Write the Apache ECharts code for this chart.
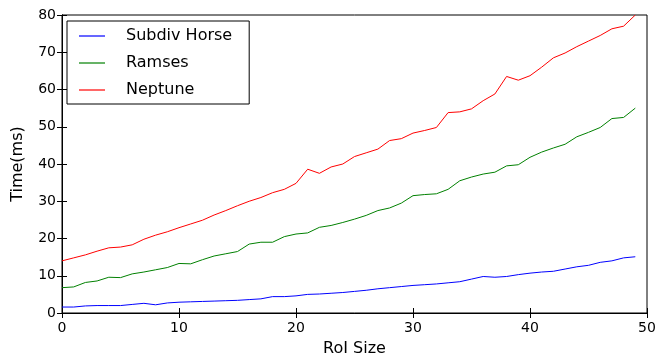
<!DOCTYPE html>
<html><head><meta charset="utf-8">
<script src="https://cdn.jsdelivr.net/npm/echarts@6/dist/echarts.min.js"></script>
<style>html,body{margin:0;padding:0;background:#fff}#c{width:657px;height:359px}</style>
</head><body><div id="c"></div>
<script>
const roiSize = Array.from({length:50},(_,i)=>i);
const subdivHorse = [1.6,1.6,1.9,2,2,2,2.3,2.6,2.2,2.7,2.9,3,3.1,3.2,3.3,3.4,3.6,3.8,4.4,4.4,4.6,5,5.1,5.3,5.5,5.8,6.1,6.5,6.8,7.1,7.4,7.6,7.8,8.1,8.4,9.1,9.8,9.6,9.8,10.3,10.7,11,11.2,11.8,12.4,12.8,13.6,14,14.8,15.1];
const ramses = [6.8,7,8.2,8.6,9.6,9.5,10.5,11,11.6,12.2,13.3,13.2,14.3,15.3,15.9,16.5,18.5,19,19,20.5,21.2,21.5,23,23.5,24.3,25.2,26.2,27.5,28.2,29.5,31.5,31.8,32,33.2,35.5,36.5,37.3,37.8,39.5,39.8,41.8,43.2,44.3,45.3,47.3,48.5,49.8,52.2,52.5,55];
const neptune = [14,14.8,15.6,16.6,17.5,17.7,18.3,19.8,20.9,21.8,22.9,23.9,24.9,26.3,27.5,28.8,30,31,32.3,33.2,34.8,38.6,37.5,39.2,40,42,43,44,46.3,46.8,48.3,49,49.8,53.8,54,54.8,57,58.8,63.5,62.5,63.7,66,68.5,69.8,71.5,73,74.5,76.3,77,80];
const seriesNames = ['Subdiv Horse','Ramses','Neptune'];
const seriesColors = ['#0000ff','#008000','#ff0000'];
const allData = [subdivHorse, ramses, neptune];

const font = 'DejaVu Sans';
const chart = echarts.init(document.getElementById('c'));
const tickStyle = {show:true, inside:true, length:5, lineStyle:{color:'#000', width:1}};
chart.setOption({
  animation:false,
  textStyle:{fontFamily:font},
  grid:{left:62, right:10, top:15, bottom:46, outerBoundsMode:'none', containLabel:false, show:true, borderColor:'#000', borderWidth:1, backgroundColor:'transparent'},
  legend:{
    left:67, top:21, orient:'vertical', data:seriesNames,
    icon:'rect', itemWidth:26, itemHeight:1.2, itemGap:11,
    padding:[7,17,6,12],
    borderColor:'#000', borderWidth:1, backgroundColor:'#fff',
    textStyle:{fontFamily:font, fontSize:16, color:'#000', padding:[0,0,0,16]}
  },
  xAxis:[
    {type:'value', min:0, max:50, interval:10, position:'bottom',
     name:'RoI Size', nameLocation:'middle', nameGap:28, nameTextStyle:{fontSize:16, color:'#000', fontFamily:font},
     axisLine:{show:true, lineStyle:{color:'#000'}}, axisTick:tickStyle, splitLine:{show:false},
     axisLabel:{fontSize:14, color:'#000', fontFamily:font, margin:8}},
    {type:'value', min:0, max:50, interval:10, position:'top',
     axisLine:{show:true, lineStyle:{color:'#000'}}, axisTick:tickStyle, splitLine:{show:false}, axisLabel:{show:false}}
  ],
  yAxis:[
    {type:'value', min:0, max:80, interval:10, position:'left',
     name:'Time(ms)', nameLocation:'middle', nameGap:36, nameRotate:90, nameTextStyle:{fontSize:16, color:'#000', fontFamily:font},
     axisLine:{show:true, lineStyle:{color:'#000'}}, axisTick:tickStyle, splitLine:{show:false},
     axisLabel:{fontSize:14, color:'#000', fontFamily:font, margin:6}},
    {type:'value', min:0, max:80, interval:10, position:'right',
     axisLine:{show:true, lineStyle:{color:'#000'}}, axisTick:tickStyle, splitLine:{show:false}, axisLabel:{show:false}}
  ],
  series: seriesNames.map((n,k)=>({
    name:n, type:'line', xAxisIndex:0, yAxisIndex:0, showSymbol:false, symbol:'none',
    lineStyle:{color:seriesColors[k], width:1}, itemStyle:{color:seriesColors[k]},
    data: roiSize.map((x,i)=>[x, allData[k][i]])
  }))
});
</script></body></html>
